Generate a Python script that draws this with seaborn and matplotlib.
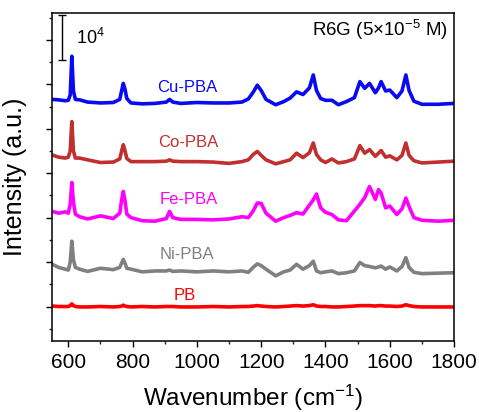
import matplotlib
matplotlib.use("Agg")
import matplotlib.pyplot as plt
from matplotlib.ticker import MultipleLocator
import numpy as np
import pandas as pd
import seaborn as sns

# ---------------- data (intensity in units of 10^4 counts, offset stacked) ----------------
wavenumber = [550, 570, 590, 600, 606, 611, 616, 622, 635, 660,
              700, 740, 760, 766, 771, 776, 782, 795, 830, 870,
              905, 915, 925, 950, 1000, 1050, 1100, 1140, 1160, 1175,
              1188, 1200, 1215, 1245, 1270, 1290, 1310, 1330, 1350, 1362,
              1372, 1385, 1400, 1420, 1440, 1465, 1490, 1507, 1522, 1537,
              1555, 1565, 1573, 1587, 1600, 1622, 1638, 1650, 1660, 1675,
              1700, 1750, 1800]

cu_pba = [4.66, 4.65, 4.63, 4.64, 4.76, 5.63, 4.85, 4.66, 4.65, 4.60,
          4.58, 4.59, 4.66, 4.86, 5.02, 4.90, 4.68, 4.58, 4.56, 4.57,
          4.60, 4.66, 4.60, 4.57, 4.59, 4.58, 4.58, 4.60, 4.67, 4.82,
          4.98, 4.86, 4.66, 4.54, 4.61, 4.69, 4.83, 4.77, 4.92, 5.21,
          4.86, 4.68, 4.64, 4.64, 4.54, 4.61, 4.70, 5.06, 4.91, 5.02,
          4.81, 4.92, 5.06, 4.85, 4.87, 4.70, 4.85, 5.21, 4.86, 4.62,
          4.55, 4.55, 4.57]

co_pba = [3.41, 3.36, 3.34, 3.36, 3.50, 4.16, 3.50, 3.34, 3.34, 3.30,
          3.24, 3.25, 3.32, 3.50, 3.64, 3.52, 3.33, 3.26, 3.26, 3.26,
          3.27, 3.30, 3.27, 3.26, 3.26, 3.25, 3.22, 3.26, 3.30, 3.42,
          3.49, 3.40, 3.30, 3.21, 3.26, 3.30, 3.45, 3.35, 3.46, 3.68,
          3.42, 3.30, 3.24, 3.32, 3.23, 3.26, 3.32, 3.62, 3.45, 3.53,
          3.38, 3.45, 3.51, 3.36, 3.39, 3.30, 3.40, 3.68, 3.40, 3.28,
          3.23, 3.25, 3.27]

fe_pba = [2.14, 2.10, 2.13, 2.10, 2.30, 2.79, 2.35, 2.08, 2.02, 1.97,
          2.04, 1.98, 2.10, 2.40, 2.59, 2.40, 2.08, 2.00, 1.93, 1.92,
          1.98, 2.14, 2.00, 1.96, 1.96, 1.95, 1.97, 2.02, 2.00, 2.15,
          2.33, 2.32, 2.10, 1.92, 2.00, 2.05, 2.11, 2.08, 2.28, 2.40,
          2.53, 2.22, 2.12, 2.07, 1.95, 1.93, 2.15, 2.30, 2.45, 2.70,
          2.41, 2.63, 2.55, 2.22, 2.26, 2.07, 2.20, 2.44, 2.25, 2.00,
          1.94, 1.92, 1.94]

ni_pba = [0.95, 0.88, 0.84, 0.82, 1.00, 1.47, 1.05, 0.88, 0.84, 0.79,
          0.86, 0.83, 0.88, 0.98, 1.06, 0.98, 0.86, 0.84, 0.78, 0.80,
          0.80, 0.82, 0.79, 0.80, 0.78, 0.80, 0.78, 0.80, 0.77, 0.88,
          0.96, 0.92, 0.84, 0.69, 0.78, 0.82, 0.95, 0.84, 0.92, 1.02,
          0.80, 0.76, 0.78, 0.80, 0.74, 0.76, 0.80, 0.99, 0.92, 0.90,
          0.87, 0.89, 0.91, 0.84, 0.89, 0.80, 0.90, 1.10, 0.88, 0.77,
          0.74, 0.75, 0.76]

pb = [0.01, 0.00, 0.00, 0.00, 0.02, 0.06, 0.02, 0.00, -0.01, -0.01,
      0.00, -0.01, 0.00, 0.01, 0.03, 0.01, 0.00, -0.01, 0.00, -0.01,
      0.00, 0.00, 0.00, -0.01, -0.01, 0.00, -0.01, 0.00, 0.00, 0.01,
      0.02, 0.01, 0.00, -0.01, 0.00, 0.01, 0.02, 0.01, 0.02, 0.04,
      0.01, 0.00, 0.00, -0.01, -0.01, 0.00, 0.01, 0.02, 0.02, 0.02,
      0.01, 0.02, 0.02, 0.01, 0.01, 0.00, 0.01, 0.04, 0.02, 0.00,
      -0.01, -0.01, -0.01]

samples = ["Cu-PBA", "Co-PBA", "Fe-PBA", "Ni-PBA", "PB"]
colors = ["#0A0AF0", "#C0302F", "#FF00FF", "#808080", "#FF0000"]
label_x = [969, 972, 974, 968, 962]
label_y = [4.92, 3.68, 2.41, 1.16, 0.25]

x_ticks = [600, 800, 1000, 1200, 1400, 1600, 1800]

# ---------------- figure ----------------
sns.set_theme(style="ticks")
plt.rcParams['font.family'] = ['Liberation Sans', 'DejaVu Sans']
plt.rcParams['mathtext.fontset'] = 'custom'
plt.rcParams['mathtext.rm'] = 'Liberation Sans'
plt.rcParams['mathtext.it'] = 'Liberation Sans:italic'
plt.rcParams['mathtext.bf'] = 'Liberation Sans:bold'

series = [cu_pba, co_pba, fe_pba, ni_pba, pb]
df = pd.DataFrame({"wavenumber": wavenumber})
for name, vals in zip(samples, series):
    df[name] = vals
long = df.melt(id_vars="wavenumber", var_name="sample", value_name="intensity")

fig = plt.figure(figsize=(4.79, 4.12), dpi=100)
ax = fig.add_axes([0.109, 0.173, 0.839, 0.795])

sns.lineplot(data=long, x="wavenumber", y="intensity", hue="sample",
             hue_order=samples, palette=dict(zip(samples, colors)),
             linewidth=2.6, legend=False, estimator=None, ax=ax)

for name, c, lx, ly in zip(samples, colors, label_x, label_y):
    ax.text(lx, ly, name, color=c, fontsize=12, ha="center", va="center")

# scale bar
ax.errorbar([581], [6.05], yerr=[[0.5], [0.5]], color="black", elinewidth=1,
            capsize=3, capthick=1)
ax.text(624, 6.04, r"10$^{4}$", fontsize=13, ha="left", va="center", color="black")
ax.text(1781, 6.22, r"R6G (5$\times$10$^{-5}$ M)", fontsize=13.5, ha="right",
        va="center", color="black")

ax.set_xlim(550, 1800)
ax.set_ylim(-0.77, 6.6)
ax.set_xticks(x_ticks)
ax.xaxis.set_minor_locator(MultipleLocator(100))
ax.yaxis.set_major_locator(MultipleLocator(1))
ax.yaxis.set_minor_locator(MultipleLocator(0.5))
ax.tick_params(axis="both", which="major", direction="out", length=4.5, width=1,
               labelsize=15, colors="black", pad=4)
ax.tick_params(axis="both", which="minor", direction="out", length=2.5, width=1)
ax.tick_params(axis="y", labelleft=False)
for s in ax.spines.values():
    s.set_linewidth(1.1)
    s.set_color("black")

ax.set_xlabel(r"Wavenumber (cm$^{-1}$)", fontsize=17.5, color="black", labelpad=8)
ax.set_ylabel("Intensity (a.u.)", fontsize=18, color="black", labelpad=12)

fig.savefig("out.png", dpi=100)
